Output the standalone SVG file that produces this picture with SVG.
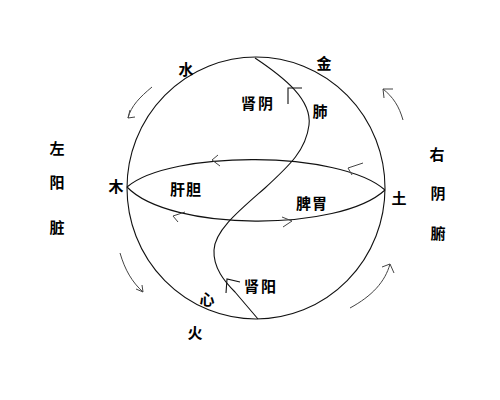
<svg xmlns="http://www.w3.org/2000/svg" width="500" height="400" viewBox="0 0 500 400">
<style>
.ln{fill:none;stroke:#111;stroke-width:1.1}
.ar{fill:none;stroke:#444;stroke-width:1}
.t{font-family:"Noto Sans CJK SC","Noto Sans",sans-serif;font-size:15px;font-weight:bold;fill:#000;text-anchor:middle;dominant-baseline:central}
</style>
<rect width="500" height="400" fill="#fff"/>
<g id="sphere">
<ellipse class="ln" cx="256" cy="188" rx="129" ry="131"/>
</g>
<g id="equator">
<path class="ln" d="M127,187 C170,150 340,150 385,190"/>
<path class="ln" d="M385,190 C340,232 170,232 127,187"/>
</g>
<g id="connectors">
<path class="ln" d="M255,58 C285,78 312,100 309,125 C306,150 290,165 265,188 C240,210 215,230 214,250 C213,268 225,282 235,292 L258,319"/>
<polyline class="ln" points="302,88 288,88 288,104"/>
<polyline class="ln" points="240,282 227,279 226,293"/>
<polyline class="ar" points="218,155 212,160 220,166"/>
<polyline class="ar" points="185,212 173,216 178,222"/>
<polyline class="ar" points="363,163 348,168 352,175"/>
<polyline class="ar" points="282,217 292,221 283,227"/>
<path class="ar" d="M152,87 C140,97 131,106 128,118"/>
<polyline class="ar" points="130,110 128,118 135,117"/>
<path class="ar" d="M120,253 C125,270 132,282 143,292"/>
<polyline class="ar" points="136,289 143,292 142,285"/>
<path class="ar" d="M350,308 C372,296 385,282 390,264"/>
<polyline class="ar" points="382,267 390,264 394,273"/>
<path class="ar" d="M403,120 C399,106 393,97 383,89"/>
<polyline class="ar" points="393,89 383,89 384,98"/>
</g>
<g id="labels">
<text class="t" x="186" y="68">水</text>
<text class="t" x="324" y="62">金</text>
<text class="t" x="258" y="102" letter-spacing="2">肾阴</text>
<text class="t" x="320" y="110">肺</text>
<text class="t" x="116" y="185">木</text>
<text class="t" x="186" y="188" letter-spacing="1">肝胆</text>
<text class="t" x="312" y="202" letter-spacing="1">脾胃</text>
<text class="t" x="399" y="197">土</text>
<text class="t" x="261" y="285" letter-spacing="2">肾阳</text>
<text class="t" x="207" y="298">心</text>
<text class="t" x="195" y="331">火</text>
<text class="t" x="57" y="147">左</text>
<text class="t" x="57" y="181">阳</text>
<text class="t" x="57" y="226">脏</text>
<text class="t" x="437" y="153">右</text>
<text class="t" x="438" y="192">阴</text>
<text class="t" x="438" y="232">腑</text>
</g>
</svg>
